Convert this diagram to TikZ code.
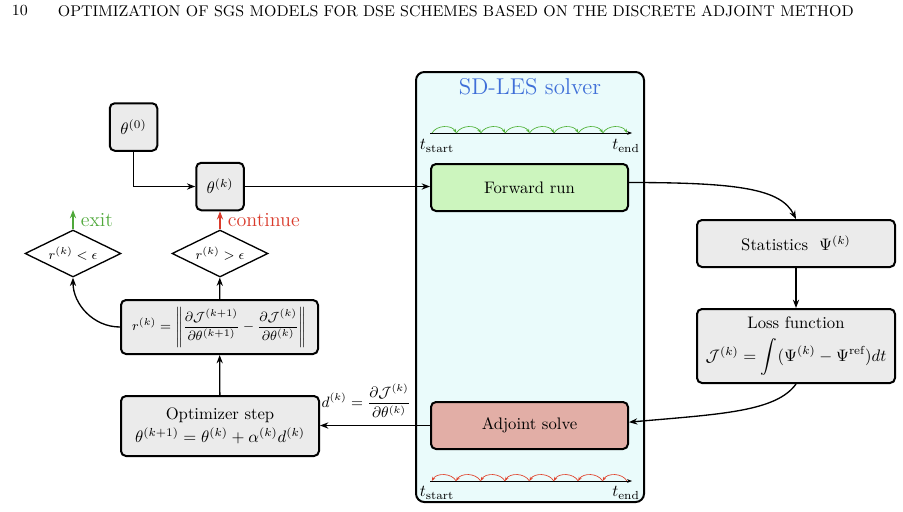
\documentclass[tikz,border=0pt]{standalone}
\usepackage{amsmath,amssymb}
\usepackage{xcolor}
\usetikzlibrary{shapes.geometric,arrows.meta,positioning,calc}
\definecolor{LESblue}{HTML}{3F6FD8}
\definecolor{LEScyan}{HTML}{EAFBFB}
\definecolor{FWDgreen}{HTML}{CCF5BE}
\definecolor{ADJred}{HTML}{E2AEA6}
\definecolor{BOXgray}{HTML}{EBEBEB}
\definecolor{ARCgreen}{HTML}{4DB033}
\definecolor{ARCred}{HTML}{E0402A}
\definecolor{CONTred}{HTML}{D93A2B}
\definecolor{EXITgreen}{HTML}{4FA83A}

\begin{document}
\begin{tikzpicture}[x=0.6pt,y=-0.6pt,
    box/.style={draw,very thick,rounded corners=3pt,fill=BOXgray,align=center,inner sep=0pt},
    decision/.style={draw,thick,diamond,aspect=2,inner sep=0pt,
      minimum width=57.6pt,minimum height=28.2pt,font=\footnotesize},
    flow/.style={-{Stealth[length=5pt]},thick}]
  \useasboundingbox (0,0) rectangle (903,511);
  % page header
  \node[anchor=west,font=\fontsize{9.3}{11}\selectfont] (pageno) at (6,11) {10};
  \node[anchor=west,font=\fontsize{9.3}{11}\selectfont] (header) at (52,11)
    {OPTIMIZATION OF SGS MODELS FOR DSE SCHEMES BASED ON THE DISCRETE ADJOINT METHOD};
  % SD-LES solver
  \draw[very thick,rounded corners=5pt,fill=LEScyan] (416,72) rectangle (644,502);
  \node[LESblue,font=\fontsize{13.7}{16}\selectfont] (title) at (530,87) {SD-LES solver};
  \node[box,fill=FWDgreen,minimum width=118.2pt,minimum height=28.2pt] (fwd) at (529.5,187.5) {Forward run};
  \node[box,fill=ADJred,minimum width=118.2pt,minimum height=28.2pt] (adj) at (529.5,425.5) {Adjoint solve};
  % forward time axis
  \coordinate (fs) at (430,133);
  \coordinate (fe) at (632,133);
  \draw[-{Stealth[length=3pt]}] (fs) -- (fe);
  \foreach \i in {0,...,7}
    \draw[ARCgreen,-{Stealth[length=2.5pt]}] ({432+24.4*\i},133) to[bend left=60] ({456.4+24.4*\i},133);
  \node (fstart) at (437,146) {$t_{\text{start}}$};
  \node (fend) at (626,146) {$t_{\text{end}}$};
  % backward time axis
  \coordinate (bs) at (430,481);
  \coordinate (be) at (632,481);
  \draw[-{Stealth[length=3pt]}] (bs) -- (be);
  \foreach \i in {0,...,7}
    \draw[ARCred,-{Stealth[length=2.5pt]}] ({627-24.4*\i},481) to[bend right=60] ({602.6-24.4*\i},481);
  \node (bstart) at (437,493) {$t_{\text{start}}$};
  \node (bend) at (626,493) {$t_{\text{end}}$};
  % post-processing
  \node[box,minimum width=118.8pt,minimum height=28.2pt] (stats) at (796,243.5) {Statistics~~$\Psi^{(k)}$};
  \node[box,minimum width=118.8pt,minimum height=44.4pt] (loss) at (796,346)
    {Loss function\\[5pt] $\mathcal{J}^{(k)}=\displaystyle\int(\Psi^{(k)}-\Psi^{\text{ref}})dt$};
  % optimization loop
  \node[box,minimum size=28.5pt] (theta0) at (133.5,127) {$\theta^{(0)}$};
  \node[box,minimum size=28.5pt] (thetak) at (220,186.5) {$\theta^{(k)}$};
  \node[decision] (gt) at (220,253.5) {$r^{(k)}>\epsilon$};
  \node[decision] (lt) at (73,253.5) {$r^{(k)}<\epsilon$};
  \node[box,minimum width=118.2pt,minimum height=32.4pt,font=\footnotesize] (resid) at (219.5,327)
    {$r^{(k)}=\left\|\dfrac{\partial\mathcal{J}^{(k+1)}}{\partial\theta^{(k+1)}}-\dfrac{\partial\mathcal{J}^{(k)}}{\partial\theta^{(k)}}\right\|$};
  \node[box,minimum width=118.8pt,minimum height=36pt] (optstep) at (220,426)
    {Optimizer step\\[2pt] $\theta^{(k+1)}=\theta^{(k)}+\alpha^{(k)}d^{(k)}$};
  \coordinate (exitend) at (73,210);
  % connectors
  \draw[flow] (theta0.south) |- (thetak.west);
  \draw[flow] (thetak.east) -- (thetak.east -| fwd.west);
  \draw[flow] ([yshift=3pt]fwd.east) .. controls +(110,0) and +(-15,-30) .. (stats.north);
  \draw[flow] (stats) -- (loss);
  \draw[flow] (loss.south) .. controls +(-20,28) and +(90,-8) .. ([yshift=2pt]adj.east);
  \draw[flow] (adj.west) -- (adj.west -| optstep.east)
    node[pos=0.58,above=1pt,font=\small] {$d^{(k)}=\dfrac{\partial\mathcal{J}^{(k)}}{\partial\theta^{(k)}}$};
  \draw[flow] (optstep) -- (resid);
  \draw[flow] (resid) -- (gt);
  \draw[flow] (resid.west) to[out=180,in=-90] (lt.south);
  \draw[flow,CONTred] (gt.north) -- (thetak.south) node[midway,right=1pt,font=\large] {continue};
  \draw[flow,EXITgreen] (lt.north) -- (exitend) node[midway,right=1pt,font=\large] {exit};
\end{tikzpicture}
\end{document}
